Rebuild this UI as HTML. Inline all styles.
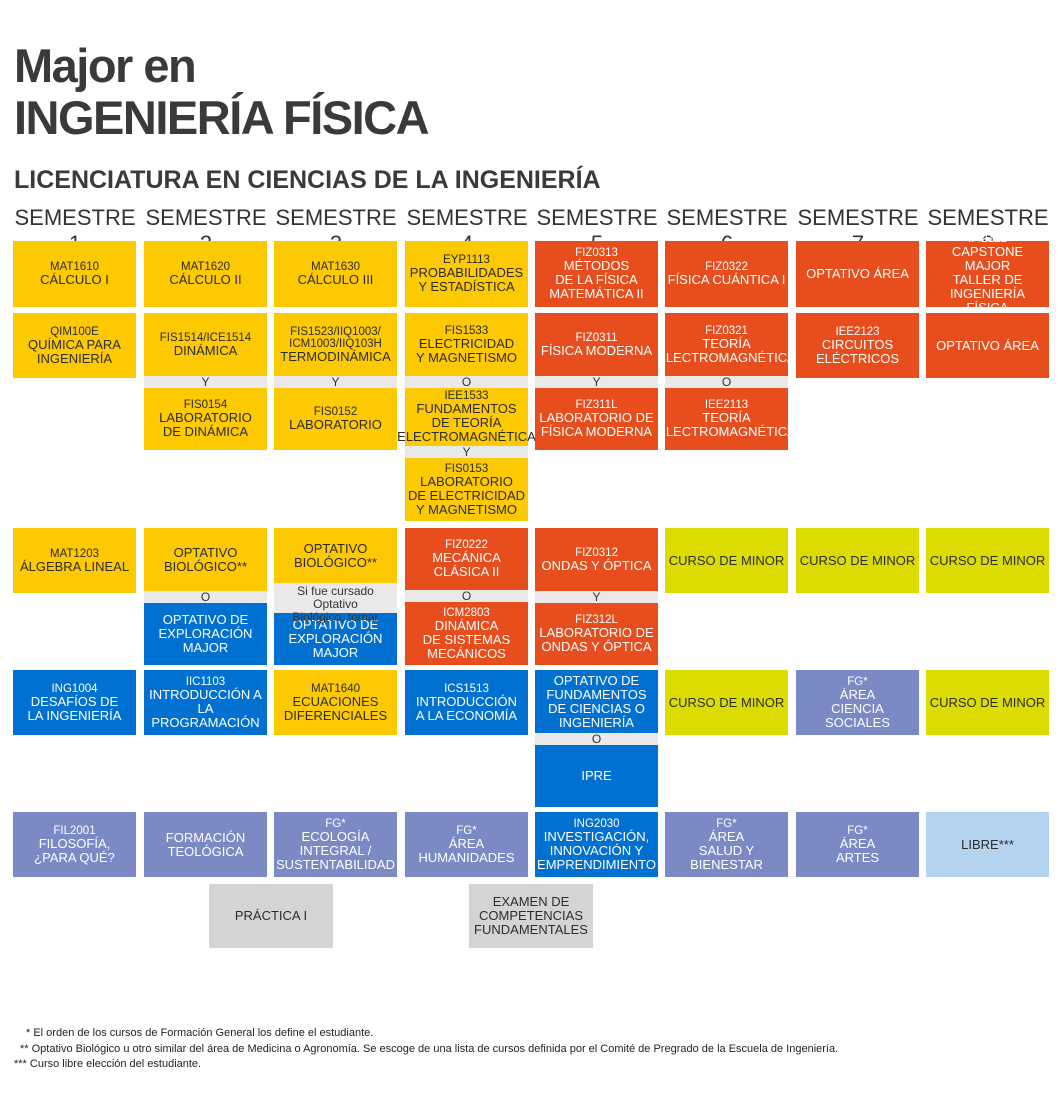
<!DOCTYPE html>
<html><head><meta charset="utf-8">
<style>
body{margin:0;width:1063px;height:1093px;background:#fff;position:relative;overflow:hidden;font-family:"Liberation Sans Narrow","Liberation Sans",sans-serif;color:#333}
.t{position:absolute;font-family:"Liberation Sans",sans-serif;font-weight:bold;color:#3a3a3c}
.sem{position:absolute;top:205px;width:130px;text-align:center;font-size:22px;font-family:"Liberation Sans Narrow","Liberation Sans",sans-serif;color:#333}
.b{position:absolute;display:flex;flex-direction:column;justify-content:center;align-items:center;text-align:center;font-size:13px;line-height:14px;box-sizing:border-box;padding:0 2px}
.b small{font-size:11.5px;line-height:12px}
.c{position:absolute;background:#e9e9e9;text-align:center;font-size:12px;line-height:12px;color:#333}
.y{background:#fdc900;color:#2d2d2d}.o{background:#e84e1d;color:#fff}.bl{background:#0071d1;color:#fff}
.p{background:#7b89c5;color:#fff}.l{background:#dcdc00;color:#2d2d2d}.lb{background:#b3d3ee;color:#2d2d2d}.g{background:#d5d4d4;color:#2d2d2d}
.n{position:absolute;font-size:11px;color:#222;left:0}
</style></head><body>
<div class="t" style="left:14px;top:38px;font-size:47px;letter-spacing:-1.5px">Major en</div>
<div class="t" style="left:14px;top:90px;font-size:47px;letter-spacing:-1.5px">INGENIERÍA FÍSICA</div>
<div class="t" style="left:14px;top:166px;font-size:25px">LICENCIATURA EN CIENCIAS DE LA INGENIERÍA</div>
<div class="sem" style="left:10px">SEMESTRE 1</div>
<div class="sem" style="left:141px">SEMESTRE 2</div>
<div class="sem" style="left:271px">SEMESTRE 3</div>
<div class="sem" style="left:402px">SEMESTRE 4</div>
<div class="sem" style="left:532px">SEMESTRE 5</div>
<div class="sem" style="left:662px">SEMESTRE 6</div>
<div class="sem" style="left:793px">SEMESTRE 7</div>
<div class="sem" style="left:923px">SEMESTRE 8</div>
<div id="grid"></div>
<div class="n" style="top:1027px;left:26px">* El orden de los cursos de Formación General los define el estudiante.</div>
<div class="n" style="top:1043px;left:20px">** Optativo Biológico u otro similar del área de Medicina o Agronomía. Se escoge de una lista de cursos definida por el Comité de Pregrado de la Escuela de Ingeniería.</div>
<div class="n" style="top:1058px;left:14px">*** Curso libre elección del estudiante.</div>
<script>
const colX=[13,144,274,405,535,665,796,926];
const W=123;
const boxes=[
[0,241,66,'y','MAT1610','CÁLCULO I'],[1,241,66,'y','MAT1620','CÁLCULO II'],[2,241,66,'y','MAT1630','CÁLCULO III'],
[3,241,66,'y','EYP1113','PROBABILIDADES<br>Y ESTADÍSTICA'],[4,241,66,'o','FIZ0313','MÉTODOS<br>DE LA FÍSICA<br>MATEMÁTICA II'],
[5,241,66,'o','FIZ0322','FÍSICA CUÁNTICA I'],[6,241,66,'o','','OPTATIVO ÁREA'],[7,241,66,'o','IFI2122','CAPSTONE MAJOR<br>TALLER DE INGENIERÍA<br>FÍSICA'],
[0,313,65,'y','QIM100E','QUÍMICA PARA<br>INGENIERÍA'],[1,313,63,'y','FIS1514/ICE1514','DINÁMICA'],[1,388,62,'y','FIS0154','LABORATORIO<br>DE DINÁMICA'],
[2,313,63,'y','FIS1523/IIQ1003/<br>ICM1003/IIQ103H','TERMODINÁMICA'],[2,388,62,'y','FIS0152','LABORATORIO'],
[3,313,63,'y','FIS1533','ELECTRICIDAD<br>Y MAGNETISMO'],[3,388,58,'y','IEE1533','FUNDAMENTOS<br>DE TEORÍA<br>ELECTROMAGNÉTICA'],[3,458,63,'y','FIS0153','LABORATORIO<br>DE ELECTRICIDAD<br>Y MAGNETISMO'],
[4,313,63,'o','FIZ0311','FÍSICA MODERNA'],[4,388,62,'o','FIZ311L','LABORATORIO DE<br>FÍSICA MODERNA'],
[5,313,63,'o','FIZ0321','TEORÍA<br>ELECTROMAGNÉTICA'],[5,388,62,'o','IEE2113','TEORÍA<br>ELECTROMAGNÉTICA'],
[6,313,65,'o','IEE2123','CIRCUITOS<br>ELÉCTRICOS'],[7,313,65,'o','','OPTATIVO ÁREA'],
[0,528,65,'y','MAT1203','ÁLGEBRA LINEAL'],[1,528,63,'y','','OPTATIVO<br>BIOLÓGICO**'],[1,603,62,'bl','','OPTATIVO DE<br>EXPLORACIÓN<br>MAJOR'],
[2,528,55,'y','','OPTATIVO<br>BIOLÓGICO**'],[2,613,52,'bl','','OPTATIVO DE<br>EXPLORACIÓN<br>MAJOR'],
[3,528,62,'o','FIZ0222','MECÁNICA<br>CLÁSICA II'],[3,602,63,'o','ICM2803','DINÁMICA<br>DE SISTEMAS<br>MECÁNICOS'],
[4,528,63,'o','FIZ0312','ONDAS Y ÓPTICA'],[4,603,62,'o','FIZ312L','LABORATORIO DE<br>ONDAS Y ÓPTICA'],
[5,528,65,'l','','CURSO DE MINOR'],[6,528,65,'l','','CURSO DE MINOR'],[7,528,65,'l','','CURSO DE MINOR'],
[0,670,65,'bl','ING1004','DESAFÍOS DE<br>LA INGENIERÍA'],[1,670,65,'bl','IIC1103','INTRODUCCIÓN A<br>LA PROGRAMACIÓN'],
[2,670,65,'y','MAT1640','ECUACIONES<br>DIFERENCIALES'],[3,670,65,'bl','ICS1513','INTRODUCCIÓN<br>A LA ECONOMÍA'],
[4,670,63,'bl','','OPTATIVO DE<br>FUNDAMENTOS<br>DE CIENCIAS O<br>INGENIERÍA'],[4,745,62,'bl','','IPRE'],
[5,670,65,'l','','CURSO DE MINOR'],[6,670,65,'p','FG*','ÁREA<br>CIENCIA SOCIALES'],[7,670,65,'l','','CURSO DE MINOR'],
[0,812,65,'p','FIL2001','FILOSOFÍA,<br>¿PARA QUÉ?'],[1,812,65,'p','','FORMACIÓN<br>TEOLÓGICA'],[2,812,65,'p','FG*','ECOLOGÍA INTEGRAL /<br>SUSTENTABILIDAD'],
[3,812,65,'p','FG*','ÁREA<br>HUMANIDADES'],[4,812,65,'bl','ING2030','INVESTIGACIÓN,<br>INNOVACIÓN Y<br>EMPRENDIMIENTO'],
[5,812,65,'p','FG*','ÁREA<br>SALUD Y BIENESTAR'],[6,812,65,'p','FG*','ÁREA<br>ARTES'],[7,812,65,'lb','','LIBRE***']
];
const conns=[[1,376,12,'Y'],[2,376,12,'Y'],[3,376,12,'O'],[3,446,12,'Y'],[4,376,12,'Y'],[5,376,12,'O'],
[1,591,12,'O'],[3,590,12,'O'],[4,591,12,'Y'],[4,733,12,'O']];
const g=document.getElementById('grid');
boxes.forEach(b=>{
 const d=document.createElement('div');
 d.className='b '+b[3];
 d.style.left=colX[b[0]]+'px';d.style.top=b[1]+'px';d.style.width=W+'px';d.style.height=b[2]+'px';
 d.innerHTML=(b[4]?'<small>'+b[4]+'</small>':'')+'<span>'+b[5]+'</span>';
 
 
 g.appendChild(d);
});
conns.forEach(c=>{
 const d=document.createElement('div');
 d.className='c';
 d.style.left=colX[c[0]]+'px';d.style.top=c[1]+'px';d.style.width=W+'px';d.style.height=c[2]+'px';
 d.textContent=c[3];
 
 
 g.appendChild(d);
});
const note=document.createElement('div');
note.className='c';
note.style.left='274px';note.style.top='583px';note.style.width=W+'px';note.style.height='30px';note.style.lineHeight='13px';note.style.paddingTop='2px';note.style.boxSizing='border-box';
note.innerHTML='Si fue cursado Optativo<br>Biológico, tomar';


g.appendChild(note);
const extras=[[209,884,'PRÁCTICA I'],[469,884,'EXAMEN DE<br>COMPETENCIAS<br>FUNDAMENTALES']];
extras.forEach(e=>{
 const d=document.createElement('div');
 d.className='b g';
 d.style.left=e[0]+'px';d.style.top=e[1]+'px';d.style.width='124px';d.style.height='64px';
 d.innerHTML='<span>'+e[2]+'</span>';
 
 
 g.appendChild(d);
});
</script>
</body></html>
